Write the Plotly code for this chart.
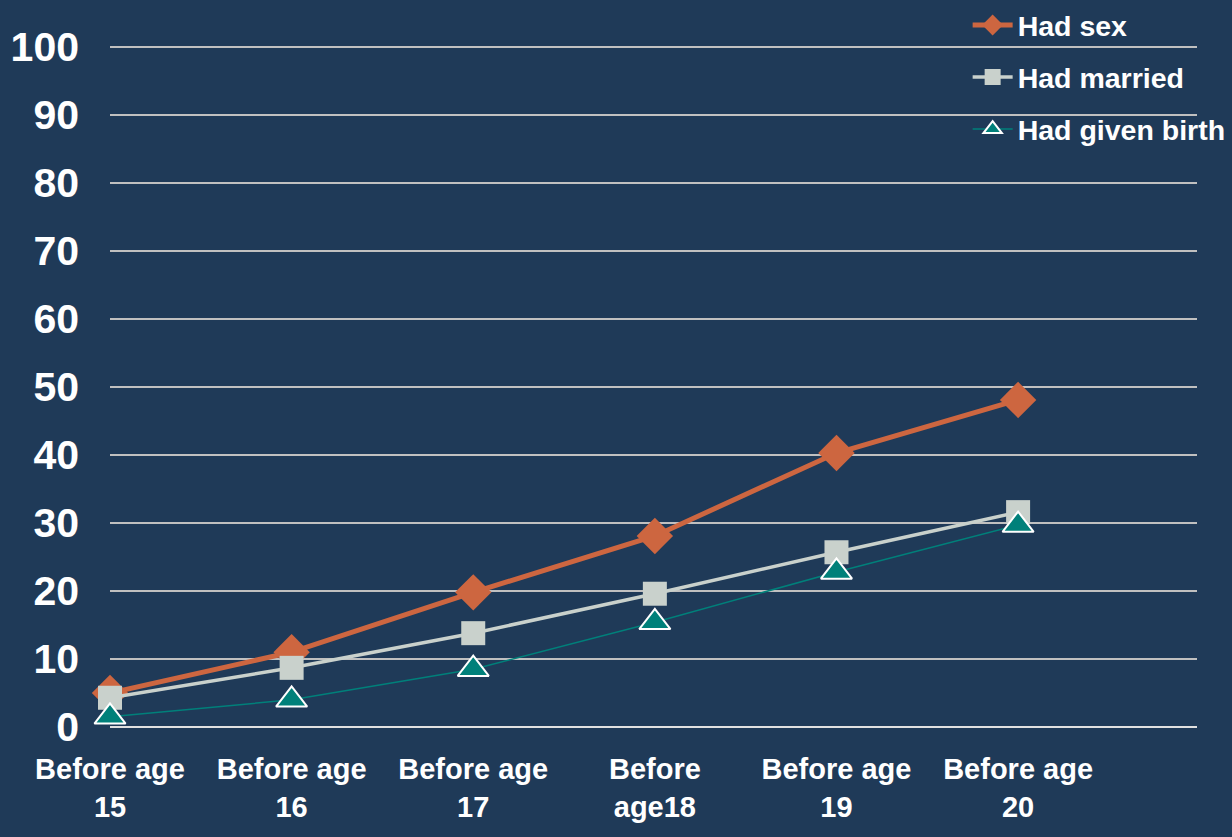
import plotly.graph_objects as go

categories = ["Before age<br>15", "Before age<br>16", "Before age<br>17",
              "Before<br>age18", "Before age<br>19", "Before age<br>20"]
had_sex = [5.0, 11.0, 19.8, 28.1, 40.3, 48.1]
had_married = [4.3, 8.7, 13.8, 19.6, 25.7, 31.6]
had_birth = [1.5, 4.0, 8.5, 15.4, 22.8, 29.7]
y_ticks = [0, 10, 20, 30, 40, 50, 60, 70, 80, 90, 100]

BG = "#1f3a58"
FONT = "Liberation Sans"
xpos = list(range(len(categories)))

fig = go.Figure()
fig.add_trace(go.Scatter(
    x=xpos, y=had_sex, name="Had sex", mode="lines+markers",
    line=dict(color="#cd6640", width=5),
    marker=dict(symbol="diamond", size=28, color="#cd6640"),
    legendgroup="a", cliponaxis=False))
fig.add_trace(go.Scatter(
    x=xpos, y=had_married, name="Had married", mode="lines+markers",
    line=dict(color="#c9d1cc", width=3.5),
    marker=dict(symbol="square", size=24, color="#c9d1cc"),
    legendgroup="b", cliponaxis=False))
fig.add_trace(go.Scatter(
    x=xpos, y=had_birth, name="Had given birth", mode="lines+markers",
    line=dict(color="#00807a", width=1.5),
    marker=dict(symbol="triangle-up", size=27, color="#00807a",
                line=dict(color="white", width=2)),
    legendgroup="c", cliponaxis=False))

fig.update_layout(
    width=1232, height=837,
    paper_bgcolor=BG, plot_bgcolor=BG,
    margin=dict(l=110, r=35, t=45, b=110, autoexpand=False),
    font=dict(family=FONT, color="white"),
    showlegend=True,
    legend=dict(x=0.789, y=1.066, xanchor="left", yanchor="top",
                font=dict(family=FONT, size=28.5, color="white", weight="bold"),
                bgcolor="rgba(0,0,0,0)", tracegroupgap=12, itemwidth=40),
    xaxis=dict(range=[0, 5.985], tickmode="array", tickvals=xpos,
               ticktext=categories, showgrid=False, zeroline=False,
               showline=False, ticks="", ticklabelstandoff=22, tickangle=0,
               tickfont=dict(family=FONT, size=29, color="white", weight="bold")),
    yaxis=dict(range=[0, 100.3], tickmode="array", tickvals=y_ticks,
               showgrid=True, gridcolor="#c0c0c0", gridwidth=2,
               zeroline=True, zerolinecolor="#e0e0e0", zerolinewidth=2,
               showline=False, ticks="", ticklabelstandoff=30,
               tickfont=dict(family=FONT, size=41, color="white", weight="bold")),
)

fig.write_html("out.html")
